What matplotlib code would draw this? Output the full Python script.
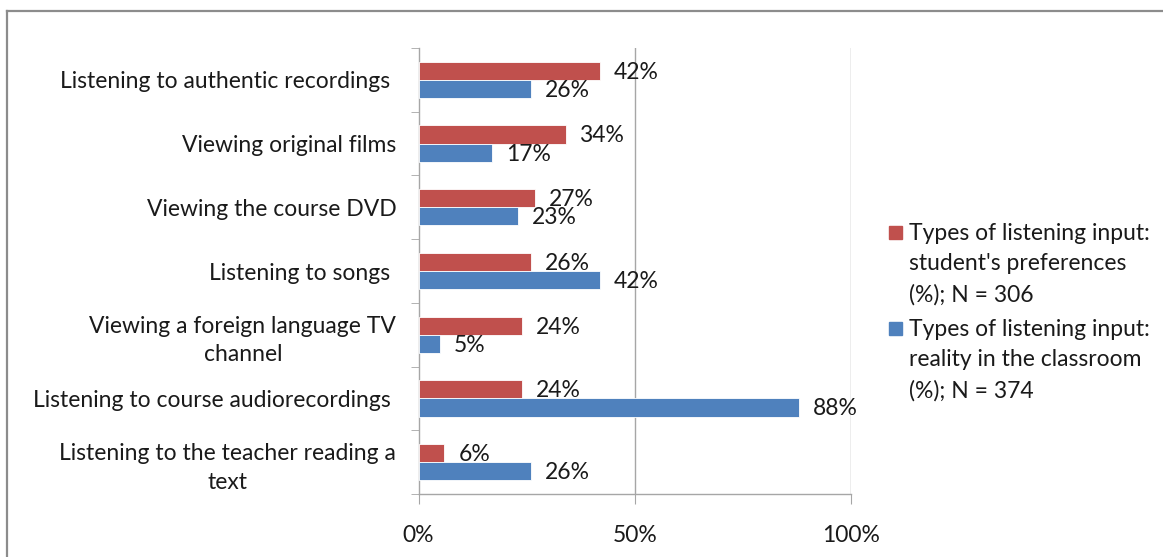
import matplotlib
matplotlib.use("Agg")
import matplotlib.pyplot as plt
from matplotlib.lines import Line2D
from matplotlib.patches import Rectangle
import numpy as np

plt.rcParams['font.family'] = ['Lato', 'DejaVu Sans']

categories = [
    "Listening to authentic recordings ",
    "Viewing original films",
    "Viewing the course DVD",
    "Listening to songs ",
    "Viewing a foreign language TV\nchannel",
    "Listening to course audiorecordings ",
    "Listening to the teacher reading a\ntext",
]
preferences = [42, 34, 27, 26, 24, 24, 6]
reality = [26, 17, 23, 42, 5, 88, 26]
x_ticks = [0, 50, 100]
x_tick_labels = ["0%", "50%", "100%"]
series_names = [
    "Types of listening input:\nstudent's preferences\n(%); N = 306",
    "Types of listening input:\nreality in the classroom\n(%); N = 374",
]

RED = "#C0504D"
BLUE = "#4F81BD"
GRID = "#A6A6A6"
TEXT = "#1a1a1a"

W, H = 1163, 557
fig = plt.figure(figsize=(W / 100, H / 100), dpi=100)

# outer chart frame (top and left edges)
fig.add_artist(Line2D([7 / W, 1.0], [1 - 11 / H, 1 - 11 / H], color="#8c8c8c", lw=1.6,
                      transform=fig.transFigure))
fig.add_artist(Line2D([7 / W, 7 / W], [0, 1 - 11 / H], color="#8c8c8c", lw=1.6,
                      transform=fig.transFigure))

ax = fig.add_axes([418.5 / W, 1 - 494 / H, (851 - 418.5) / W, (494 - 48) / H])

n = len(categories)
pos = np.arange(n)[::-1]  # first category at the top
bh = 0.285

ax.barh(pos + bh / 2, preferences, height=bh, color=RED, edgecolor="white", linewidth=0.6, zorder=3)
ax.barh(pos - bh / 2, reality, height=bh, color=BLUE, edgecolor="white", linewidth=0.6, zorder=3)

fs = 16.5
for p, v in zip(pos, preferences):
    ax.annotate(f"{v}%", (v, p + bh / 2), xytext=(10, -1), textcoords="offset points",
                va="center", ha="left", fontsize=fs, color=TEXT, zorder=4)
for p, v in zip(pos, reality):
    ax.annotate(f"{v}%", (v, p - bh / 2), xytext=(10, -1), textcoords="offset points",
                va="center", ha="left", fontsize=fs, color=TEXT, zorder=4)

ax.set_xlim(0, 100)
ax.set_ylim(-0.5, n - 0.5)
ax.set_xticks(x_ticks)
ax.set_xticklabels(x_tick_labels, fontsize=fs, color=TEXT)
ax.tick_params(axis="x", length=7, color=GRID, pad=15)

# category labels between boundary ticks
ax.set_yticks(pos)
ax.set_yticklabels(categories, fontsize=fs, color=TEXT, multialignment="center", linespacing=1.45)
ax.tick_params(axis="y", length=0, pad=16)
ax.set_yticks(np.arange(-0.5, n, 1.0), minor=True)
ax.tick_params(axis="y", which="minor", length=6, color=GRID)

for s in ["top", "right"]:
    ax.spines[s].set_visible(False)
for s in ["left", "bottom"]:
    ax.spines[s].set_color(GRID)
    ax.spines[s].set_linewidth(1.0)

for xv in x_ticks[1:]:
    ax.axvline(xv, color=GRID, lw=1.0, zorder=1)

# legend: square marker aligned with the first line of each entry
legend_tops = [232, 328]  # pixel centre of each entry's first line
for name, col, yc in zip(series_names, [RED, BLUE], legend_tops):
    sq = 13
    fig.add_artist(Rectangle((889 / W, 1 - (yc + sq / 2) / H), sq / W, sq / H,
                             transform=fig.transFigure, facecolor=col, edgecolor=col))
    fig.text(909 / W, 1 - (yc - 9) / H, name, fontsize=fs, color=TEXT, va="top", ha="left",
             linespacing=1.55)

fig.savefig("out.png", dpi=100, facecolor="white")
